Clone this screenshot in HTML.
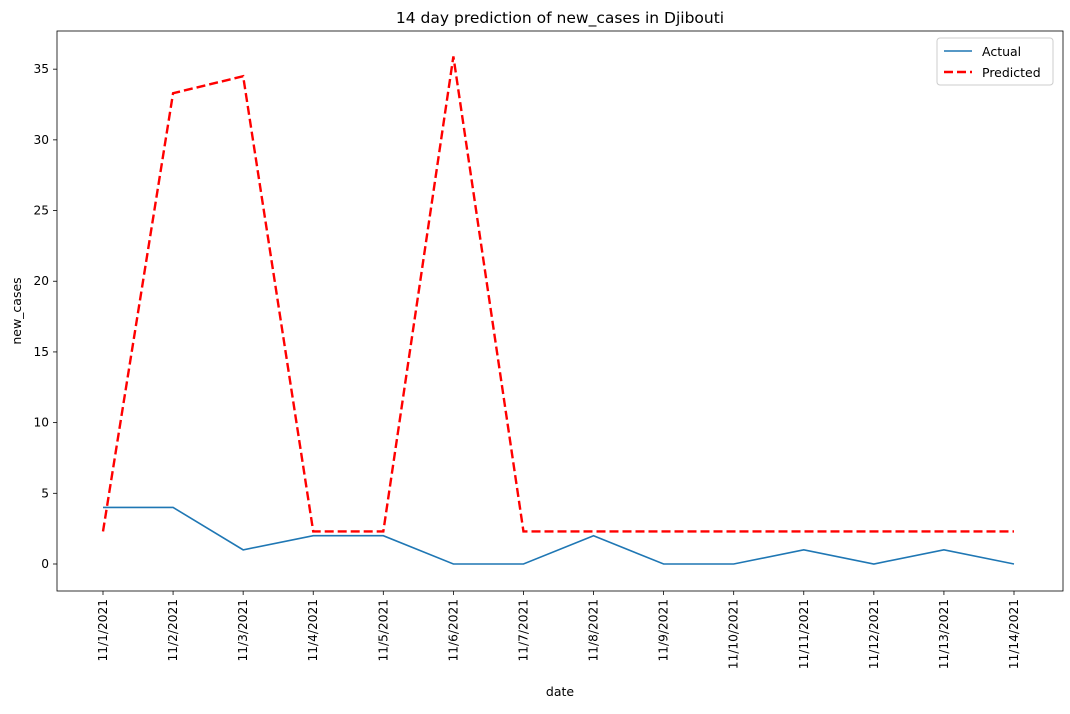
<!DOCTYPE html>
<html><head><meta charset="utf-8"><style>
body{margin:0;background:#fff;font-family:"Liberation Sans","DejaVu Sans",sans-serif;}
svg text{font-family:"DejaVu Sans","Liberation Sans",sans-serif;}
</style></head><body>
<svg id="chart" width="1070" height="709" xmlns="http://www.w3.org/2000/svg"></svg>
<script>
const categories=["11/1/2021","11/2/2021","11/3/2021","11/4/2021","11/5/2021","11/6/2021","11/7/2021","11/8/2021","11/9/2021","11/10/2021","11/11/2021","11/12/2021","11/13/2021","11/14/2021"];
const actual=[4,4,1,2,2,0,0,2,0,0,1,0,1,0];
const predicted=[2.3,33.3,34.5,2.3,2.3,35.9,2.3,2.3,2.3,2.3,2.3,2.3,2.3,2.3];
const yTicks=[0,5,10,15,20,25,30,35];
const L=57,R=1063,T=31,B=591,yMin=-1.91,yMax=37.7;
const x0=103,x1=1014;
const svg=document.getElementById('chart');
const NS='http://www.w3.org/2000/svg';
function xs(i){return x0+(x1-x0)*i/(categories.length-1);}
function ys(v){return B-(v-yMin)/(yMax-yMin)*(B-T);}
function mk(tag,attrs,parent){const e=document.createElementNS(NS,tag);for(const k in attrs)e.setAttribute(k,attrs[k]);(parent||svg).appendChild(e);return e;}
const frame=mk('rect',{x:L,y:T,width:R-L,height:B-T,fill:'none',stroke:'#000','stroke-width':0.8});


const title=mk('text',{x:(L+R)/2,y:23,'text-anchor':'middle','font-size':15.5});
title.textContent='14 day prediction of new_cases in Djibouti';


yTicks.forEach(v=>{const y=ys(v);
mk('line',{x1:L-4,x2:L,y1:y,y2:y,stroke:'#000','stroke-width':0.8});
const t=mk('text',{x:L-8,y:y+4,'text-anchor':'end','font-size':12.2});t.textContent=v;

});
categories.forEach((c,i)=>{const x=xs(i);
mk('line',{x1:x,x2:x,y1:B,y2:B+4,stroke:'#000','stroke-width':0.8});
const t=mk('text',{x:0,y:0,'text-anchor':'end','font-size':12.2,transform:`translate(${x+4},${B+8}) rotate(-90)`});t.textContent=c;

});
const xt=mk('text',{x:(L+R)/2,y:696,'text-anchor':'middle','font-size':12.5});xt.textContent='date';


const yt=mk('text',{x:0,y:0,'text-anchor':'middle','font-size':12.5,transform:`translate(21,${(T+B)/2}) rotate(-90)`});yt.textContent='new_cases';


const pa=mk('polyline',{points:actual.map((v,i)=>xs(i)+','+ys(v)).join(' '),fill:'none',stroke:'#1f77b4','stroke-width':1.6});


const pp=mk('polyline',{points:predicted.map((v,i)=>xs(i)+','+ys(v)).join(' '),fill:'none',stroke:'#ff0000','stroke-width':2.4,'stroke-dasharray':'9,4'});


const lg=mk('g',{});


mk('rect',{x:937,y:38,width:116,height:47,rx:3,fill:'#fff',stroke:'#ccc'},lg);
mk('line',{x1:944,x2:972,y1:51,y2:51,stroke:'#1f77b4','stroke-width':1.6},lg);
mk('line',{x1:944,x2:972,y1:72,y2:72,stroke:'#ff0000','stroke-width':2.4,'stroke-dasharray':'9,4'},lg);
const l1=mk('text',{x:982,y:56,'font-size':12.5},lg);l1.textContent='Actual';


const l2=mk('text',{x:982,y:77,'font-size':12.5},lg);l2.textContent='Predicted';


</script>
</body></html>
